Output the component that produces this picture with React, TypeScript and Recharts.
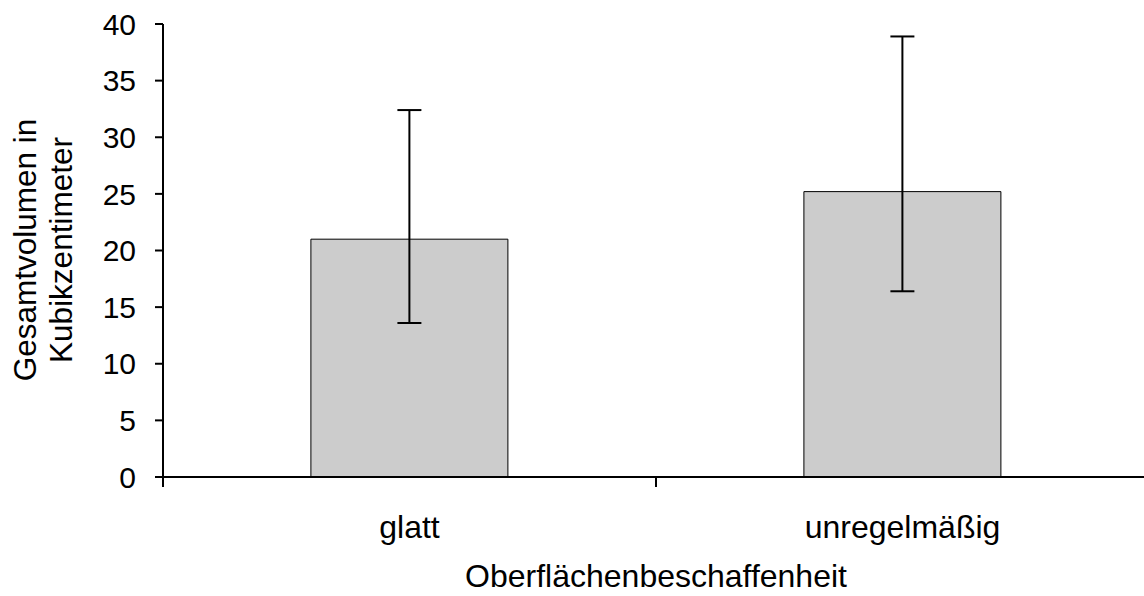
import { BarChart, Bar, XAxis, YAxis, ErrorBar, Label } from "recharts";

const categories = ["glatt", "unregelmäßig"];
const means = [21.0, 25.2];
const errLow = [7.4, 8.8];
const errHigh = [11.4, 13.7];
const yTicks = [0, 5, 10, 15, 20, 25, 30, 35, 40];

const data = categories.map((name, i) => ({
  name,
  value: means[i],
  err: [errLow[i], errHigh[i]],
}));

const font = "'Liberation Sans', Arial, sans-serif";

// tick marks sit on the category boundaries, labels in the middle
function CategoryTick(props: any) {
  const { x, y, payload, index, visibleTicksCount } = props;
  const half = payload.offset || 0;
  const isLast = index === visibleTicksCount - 1;
  return (
    <g>
      <line x1={x - half} x2={x - half} y1={y} y2={y + 10} stroke="#000" strokeWidth={2} />
      {isLast && (
        <line x1={x + half} x2={x + half} y1={y} y2={y + 10} stroke="#000" strokeWidth={2} />
      )}
      <text
        x={x}
        y={y + 38}
        dy="0.71em"
        textAnchor="middle"
        fill="#000"
        fontSize={32}
        fontFamily={font}
      >
        {payload.value}
      </text>
    </g>
  );
}

function YTitle() {
  return (
    <g fontFamily={font} fontSize={31.5} fill="#000">
      <text x={36} y={250} textAnchor="middle" transform="rotate(-90, 36, 250)">
        Gesamtvolumen in
      </text>
      <text x={72} y={250} textAnchor="middle" transform="rotate(-90, 72, 250)">
        Kubikzentimeter
      </text>
    </g>
  );
}

export default function App() {
  return (
    <div
      style={{
        position: "absolute",
        left: 0,
        top: 0,
        width: 1144,
        height: 596,
        overflow: "hidden",
        background: "#fff",
      }}
    >
      <BarChart
        width={1150}
        height={596}
        data={data}
        margin={{ top: 24, right: 1, bottom: 0, left: 63 }}
        barCategoryGap="30%"
      >
        <XAxis
          dataKey="name"
          height={119}
          axisLine={{ stroke: "#000", strokeWidth: 2 }}
          tickLine={false}
          tickSize={0}
          tickMargin={0}
          tick={<CategoryTick />}
        >
          <Label
            value="Oberflächenbeschaffenheit"
            position="insideBottom"
            offset={9}
            fill="#000"
            fontSize={32}
            fontFamily={font}
          />
        </XAxis>
        <YAxis
          domain={[0, 40]}
          ticks={yTicks}
          width={100}
          interval={0}
          tickSize={8}
          tickMargin={19}
          axisLine={{ stroke: "#000", strokeWidth: 2 }}
          tickLine={{ stroke: "#000", strokeWidth: 2 }}
          tick={{ fill: "#000", fontSize: 30, fontFamily: font }}
        />
        <Bar
          dataKey="value"
          fill="#cccccc"
          stroke="#000"
          strokeWidth={1}
          isAnimationActive={false}
        >
          <ErrorBar dataKey="err" width={12} stroke="#000" strokeWidth={2} />
        </Bar>
        <YTitle />
      </BarChart>
    </div>
  );
}
